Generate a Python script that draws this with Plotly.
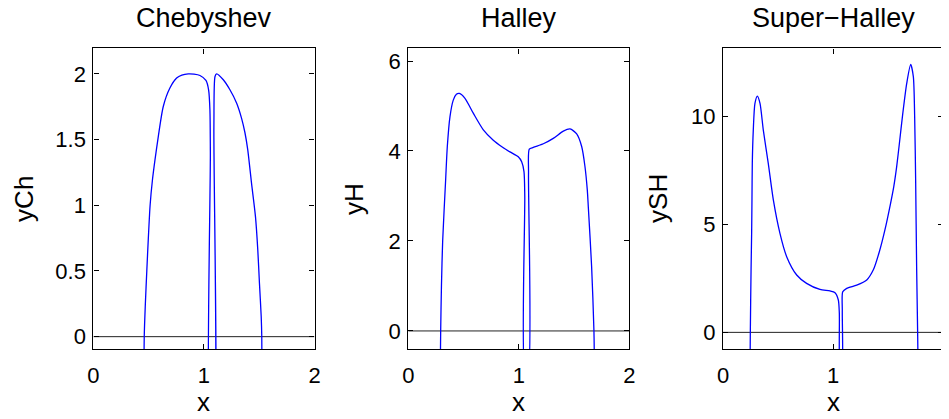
import plotly.graph_objects as go
from plotly.subplots import make_subplots

# ---------------- data ----------------
titles = ["Chebyshev", "Halley", "Super\u2212Halley"]
ylabels = ["yCh", "yH", "ySH"]
x_ticks = [0, 1, 2]
y_ticks_ch = [0, 0.5, 1, 1.5, 2]
y_ticks_h = [0, 2, 4, 6]
y_ticks_sh = [0, 5, 10]

x_ch = [0.455, 0.460, 0.470, 0.483, 0.497, 0.513, 0.535, 0.557, 0.587, 0.632, 0.692, 0.753,
        0.800, 0.858, 0.910, 0.964, 1.018, 1.042, 1.054, 1.058, 1.062,
        1.084, 1.090, 1.100, 1.115, 1.175, 1.235, 1.296, 1.341, 1.371, 1.396, 1.430,
        1.466, 1.487, 1.502, 1.518, 1.523, 1.530]
y_ch = [-1.0, 0.0, 0.25, 0.5, 0.75, 1.0, 1.2, 1.346, 1.523, 1.752, 1.892, 1.968,
        1.990, 2.0, 1.998, 1.988, 1.950, 1.879, 1.727, 1.40, -1.0,
        -1.0, 1.60, 1.980, 2.0, 1.955, 1.879, 1.777, 1.660, 1.552, 1.424, 1.170,
        0.914, 0.660, 0.407, 0.152, 0.0, -1.0]

x_h = [0.289, 0.293, 0.300, 0.311, 0.338, 0.353, 0.377, 0.407, 0.435, 0.462, 0.513, 0.588,
       0.679, 0.769, 0.850, 0.920, 0.995, 1.026, 1.047, 1.054, 1.058,
       1.082, 1.088, 1.095, 1.131, 1.222, 1.312, 1.403, 1.463, 1.524, 1.569, 1.599,
       1.620, 1.629, 1.659, 1.680, 1.685]
y_h = [-1.0, 0.0, 1.0, 2.0, 3.36, 4.10, 4.76, 5.13, 5.26, 5.28, 5.17, 4.84,
       4.47, 4.24, 4.09, 3.98, 3.87, 3.76, 3.54, 3.0, -1.0,
       -1.0, 3.5, 4.04, 4.08, 4.16, 4.28, 4.44, 4.49, 4.38, 4.10, 3.65,
       3.13, 2.76, 1.43, 0.0, -1.0]

x_sh = [0.245, 0.248, 0.255, 0.260, 0.263, 0.266, 0.275, 0.290, 0.312, 0.336, 0.366, 0.411,
        0.457, 0.517, 0.578, 0.669, 0.759, 0.880, 0.971, 1.017, 1.047, 1.056, 1.065,
        1.078, 1.083, 1.087, 1.123, 1.214, 1.305, 1.365, 1.420, 1.470, 1.520, 1.550,
        1.577, 1.601, 1.631, 1.668, 1.704, 1.728, 1.740, 1.749, 1.758, 1.767, 1.772]
y_sh = [-2.0, 0.0, 3.0, 4.6, 6.14, 7.84, 9.38, 10.62, 10.96, 10.62, 9.38, 7.84,
        6.14, 4.59, 3.51, 2.66, 2.27, 1.99, 1.92, 1.84, 1.50, 0.9, -2.0,
        -2.0, 1.0, 1.88, 2.04, 2.19, 2.43, 2.90, 3.75, 4.75, 5.95, 6.75,
        7.70, 8.75, 10.1, 11.55, 12.43, 11.86, 10.0, 7.06, 3.0, 0.0, -2.0]

y_ranges = [[-0.097, 2.194], [-0.41, 6.28], [-0.79, 13.17]]

# ---------------- figure ----------------
OFF = 8                      # page body margin
W, H = 949 - OFF, 419 - OFF  # figure size so that it fits the window
FONT = "Liberation Sans, Arial, Helvetica, sans-serif"


def px(p):   # page x pixel -> paper fraction
    return (p - OFF) / W


def py(p):   # page y pixel -> paper fraction
    return 1 - (p - OFF) / H


fig = make_subplots(rows=1, cols=3)
series = [(x_ch, y_ch), (x_h, y_h), (x_sh, y_sh)]
ytick_sets = [y_ticks_ch, y_ticks_h, y_ticks_sh]

xdom = [[px(93.4), px(314.5)], [px(408.3), px(629.3)], [px(723.0), px(943.3)]]
ydom = [py(349.4), py(48.4)]

for i, (xs, ys) in enumerate(series):
    col = i + 1
    fig.add_trace(go.Scatter(x=[x_ticks[0], x_ticks[-1]], y=[0, 0], mode="lines",
                             line=dict(color="#222222", width=1), showlegend=False,
                             hoverinfo="skip"), row=1, col=col)
    fig.add_trace(go.Scatter(x=xs, y=ys, mode="lines",
                             line=dict(color="#0000ff", width=1.3, shape="spline",
                                       smoothing=0.7),
                             showlegend=False),
                  row=1, col=col)
    axcommon = dict(showline=True, linecolor="black", linewidth=1.2, mirror="ticks",
                    ticks="inside", ticklen=5, tickcolor="black", tickwidth=1,
                    showgrid=False, zeroline=False, automargin=False,
                    tickfont=dict(family=FONT, size=22, color="black"))
    fig.update_xaxes(range=[0, 2], tickvals=x_ticks, domain=xdom[i],
                     ticklabelstandoff=6, **axcommon, row=1, col=col)
    fig.update_yaxes(range=y_ranges[i], tickvals=ytick_sets[i], domain=ydom,
                     ticklabelstandoff=2, **axcommon, row=1, col=col)

    cx = (xdom[i][0] + xdom[i][1]) / 2
    fig.add_annotation(text=titles[i], xref="paper", yref="paper", x=cx, y=py(18),
                       xanchor="center", yanchor="middle", showarrow=False,
                       font=dict(family=FONT, size=27, color="black"))
    fig.add_annotation(text="x", xref="paper", yref="paper", x=cx, y=py(402),
                       xanchor="center", yanchor="middle", showarrow=False,
                       font=dict(family=FONT, size=26, color="black"))
    ylab_x = [24, 354, 658][i]
    fig.add_annotation(text=ylabels[i], xref="paper", yref="paper", x=px(ylab_x),
                       y=(ydom[0] + ydom[1]) / 2, textangle=-90,
                       xanchor="center", yanchor="middle", showarrow=False,
                       font=dict(family=FONT, size=26, color="black"))

fig.update_layout(width=W, height=H, margin=dict(l=0, r=0, t=0, b=0),
                  paper_bgcolor="white", plot_bgcolor="white",
                  font=dict(family=FONT, color="black"))

fig.write_html("out.html")
